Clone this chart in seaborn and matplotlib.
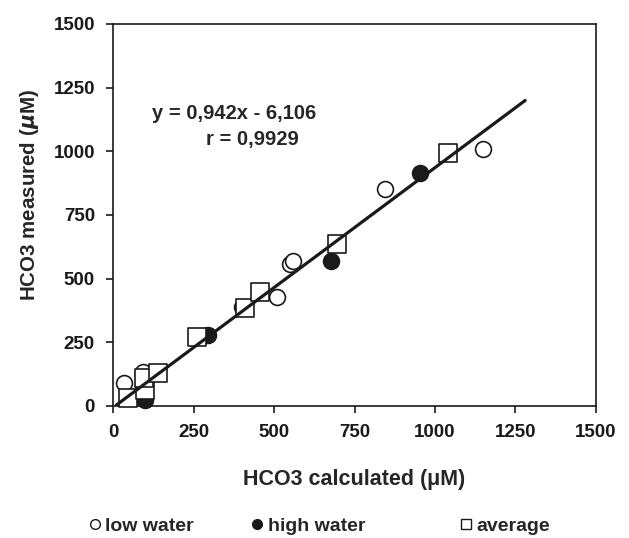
import numpy as np
import pandas as pd
import seaborn as sns
import matplotlib.pyplot as plt
from matplotlib.lines import Line2D

low_x = [35, 94, 510, 551, 560, 846, 1150]
low_y = [89, 135, 428, 557, 568, 853, 1008]
high_x = [100, 296, 400, 676, 952]
high_y = [24, 280, 390, 568, 914]
avg_x = [48, 100, 95, 140, 262, 411, 455, 696, 1039]
avg_y = [30, 62, 109, 131, 270, 383, 448, 638, 992]

# recta de regresion
slope = 0.942
intercept = -6.106
line_x = [10, 1280]

ticks = [0, 250, 500, 750, 1000, 1250, 1500]
leyenda = ['low water', 'high water', 'average']

sns.set_style("ticks")
plt.rcParams['font.family'] = ['Liberation Sans', 'DejaVu Sans']
plt.rcParams['font.weight'] = 'bold'
plt.rcParams['mathtext.default'] = 'bf'

fig = plt.figure(figsize=(6.29, 5.38), dpi=100)
ax = fig.add_axes([0.1797, 0.2454, 0.7678, 0.71])

low = pd.DataFrame({'x': low_x, 'y': low_y})
high = pd.DataFrame({'x': high_x, 'y': high_y})
avg = pd.DataFrame({'x': avg_x, 'y': avg_y})

negro = '#1a1a1a'
sns.scatterplot(data=low, x='x', y='y', ax=ax, marker='o', s=130,
                facecolor='white', edgecolor=negro, linewidth=1.2, zorder=2, clip_on=False)
sns.scatterplot(data=high, x='x', y='y', ax=ax, marker='o', s=130,
                color=negro, edgecolor=negro, linewidth=1.2, zorder=3, clip_on=False)
sns.scatterplot(data=avg, x='x', y='y', ax=ax, marker='s', s=150,
                facecolor='white', edgecolor=negro, linewidth=1.2, zorder=4, clip_on=False)

lx = np.array(line_x)
sns.lineplot(x=lx, y=slope * lx + intercept, ax=ax, color=negro,
             linewidth=2.3, zorder=5)

ax.set_xlim(0, 1500)
ax.set_ylim(0, 1500)
ax.set_xticks(ticks)
ax.set_yticks(ticks)
ax.tick_params(direction='out', length=5, width=1.2, labelsize=13.5, pad=8,
               colors=negro)
for s in ax.spines.values():
    s.set_linewidth(1.2)
    s.set_color(negro)

ax.set_xlabel('HCO3 calculated (\u03bcM)', fontsize=15.5, fontweight='bold', labelpad=20)
ax.set_ylabel('HCO3 measured ($\\it{\\mu}$M)', fontsize=14.8, fontweight='bold')
ax.yaxis.set_label_coords(-0.149, 0.552)

ax.text(122, 1150, 'y = 0,942x - 6,106', fontsize=14.5, fontweight='bold',
        va='center', ha='left')
ax.text(290, 1048, 'r = 0,9929', fontsize=14.5, fontweight='bold',
        va='center', ha='left')

handles = [
    Line2D([], [], marker='o', ls='', markersize=7, mfc='white', mec=negro, mew=1),
    Line2D([], [], marker='o', ls='', markersize=7, mfc=negro, mec=negro),
    Line2D([], [], marker='s', ls='', markersize=7, mfc='white', mec=negro, mew=1),
]
pos_x = [0.138, 0.397, 0.728]
for h, lab, px in zip(handles, leyenda, pos_x):
    fig.legend([h], [lab], loc='center left', bbox_to_anchor=(px, 0.022),
               frameon=False, handletextpad=0.15, handlelength=0.8,
               borderpad=0, borderaxespad=0,
               prop={'size': 14, 'weight': 'bold'})

plt.savefig('out.png', dpi=100)
